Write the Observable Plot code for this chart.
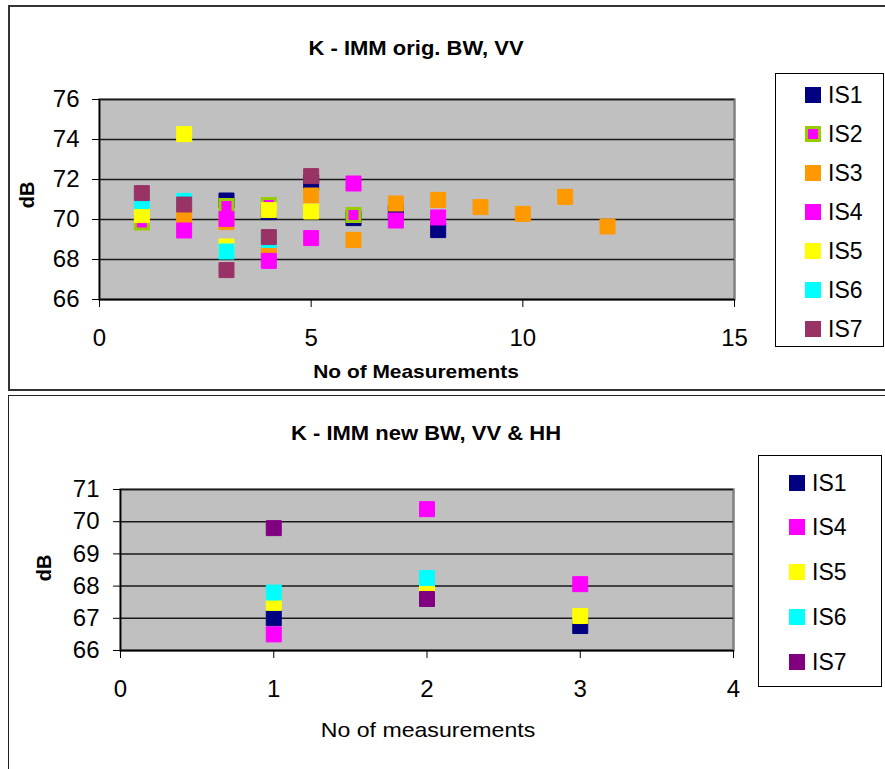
<!DOCTYPE html>
<html>
<head>
<meta charset="utf-8">
<script src="https://cdn.jsdelivr.net/npm/d3@7"></script>
<script src="https://cdn.jsdelivr.net/npm/@observablehq/plot@0.6"></script>
<style>
  body { margin: 0; background: #fff; font-family: "Liberation Sans", Arial, sans-serif; }
  #wrap { position: relative; width: 885px; height: 769px; overflow: hidden; background: #fff; }
  .frame { position: absolute; box-sizing: border-box; }
  .abs { position: absolute; transform: translate(-50%, -50%) scaleX(1.1); white-space: nowrap; color: #000; line-height: 1; }
  .legend { position: absolute; box-sizing: border-box; border: 1px solid #000; background: #fff; }
  .lg-item { position: absolute; height: 24px; line-height: 24px; font-size: 23px; white-space: nowrap; }
  .sw { position: absolute; width: 16px; height: 16px; box-sizing: border-box; }
  .chart { position: absolute; left: 0; }
</style>
</head>
<body>
<div id="wrap">
  <div class="frame" style="left:8px; top:5px; width:890px; height:386px; border:2px solid #333;"></div>
  <div class="frame" style="left:8px; top:395px; width:890px; height:400px; border:1.5px solid #222;"></div>
  <div id="top" class="chart" style="top:0px;"></div>
  <div id="bottom" class="chart" style="top:395px;"></div>
  <div class="abs" style="left:416px; top:48px; font-size:20px; font-weight:bold;">K - IMM orig. BW, VV</div>
  <div class="abs" style="left:416px; top:371px; font-size:19px; font-weight:bold;">No of Measurements</div>
  <div class="abs" style="left:27px; top:195px; font-size:20px; font-weight:bold; transform: translate(-50%,-50%) rotate(-90deg);">dB</div>
  <div class="abs" style="left:426px; top:433px; font-size:20px; font-weight:bold;">K - IMM new BW, VV &amp; HH</div>
  <div class="abs" style="left:428px; top:729px; font-size:21px;">No of measurements</div>
  <div class="abs" style="left:44px; top:568px; font-size:20px; font-weight:bold; transform: translate(-50%,-50%) rotate(-90deg);">dB</div>
  <div id="legTop" class="legend" style="left:775px; top:73px; width:109px; height:274px;"></div>
  <div id="legBot" class="legend" style="left:758px; top:455px; width:124px; height:232px;"></div>
</div>
<script>
// ---------- Top chart data (K - IMM orig. BW, VV) ----------
const topSeries = ["IS1", "IS2", "IS3", "IS4", "IS5", "IS6", "IS7"];
const topColors = ["#000080", "#FF00FF", "#FF9900", "#FF00FF", "#FFFF00", "#00FFFF", "#993366"];
const topXTicks = [0, 5, 10, 15];
const topYTicks = [66, 68, 70, 72, 74, 76];

const topIS1x = [3, 4, 5, 6, 7, 8];
const topIS1y = [70.95, 70.37, 71.85, 70.07, 70.35, 69.47];
const topIS2x = [1, 3, 4, 6];
const topIS2y = [69.85, 70.67, 70.73, 70.23];
const topIS3x = [2, 3, 4, 5, 6, 7, 8, 9, 10, 11, 12];
const topIS3y = [70.15, 69.87, 68.47, 71.2, 68.98, 70.8, 70.98, 70.62, 70.28, 71.13, 69.65];
const topIS4x = [2, 3, 4, 5, 6, 7, 8];
const topIS4y = [69.45, 70.03, 67.93, 69.07, 71.8, 69.95, 70.1];
const topIS5x = [1, 2, 3, 4, 5];
const topIS5y = [70.22, 74.27, 68.65, 70.47, 70.4];
const topIS6x = [1, 2, 3, 4];
const topIS6y = [70.92, 70.93, 68.4, 68.98];
const topIS7x = [1, 2, 3, 4, 5];
const topIS7y = [71.32, 70.75, 67.47, 69.12, 72.17];

// ---------- Bottom chart data (K - IMM new BW, VV & HH) ----------
const botSeries = ["IS1", "IS4", "IS5", "IS6", "IS7"];
const botColors = ["#000080", "#FF00FF", "#FFFF00", "#00FFFF", "#800080"];
const botXTicks = [0, 1, 2, 3, 4];
const botYTicks = [66, 67, 68, 69, 70, 71];

const botIS1x = [1, 3];
const botIS1y = [67.0, 66.76];
const botIS4x = [1, 2, 3];
const botIS4y = [66.5, 70.39, 68.06];
const botIS5x = [1, 2, 3];
const botIS5y = [67.48, 67.92, 67.07];
const botIS6x = [1, 2];
const botIS6y = [67.8, 68.25];
const botIS7x = [1, 2];
const botIS7y = [69.8, 67.6];

function rows(name, xs, ys) { return xs.map((x, i) => ({series: name, x, y: ys[i]})); }

const topData = [
  rows("IS1", topIS1x, topIS1y), rows("IS2", topIS2x, topIS2y), rows("IS3", topIS3x, topIS3y),
  rows("IS4", topIS4x, topIS4y), rows("IS5", topIS5x, topIS5y), rows("IS6", topIS6x, topIS6y),
  rows("IS7", topIS7x, topIS7y)
];
const botData = [
  rows("IS1", botIS1x, botIS1y), rows("IS4", botIS4x, botIS4y), rows("IS5", botIS5x, botIS5y),
  rows("IS6", botIS6x, botIS6y), rows("IS7", botIS7x, botIS7y)
];

const SQ = 15 / Math.sqrt(Math.PI);      // square of side 15 + 1px stroke
const SQ2 = 13 / Math.sqrt(Math.PI);     // IS2: side 13 + 3px border

function seriesMarks(data, names, colors, special) {
  return data.map((d, i) => {
    const isSpecial = special && names[i] === special;
    return Plot.dot(d, {
      x: "x", y: "y", symbol: "square",
      r: isSpecial ? SQ2 : SQ,
      fill: "series",
      stroke: isSpecial ? "#99CC00" : colors[i],
      strokeWidth: isSpecial ? 3 : 1
    });
  });
}

const fontStyle = {fontFamily: '"Liberation Sans", Arial, sans-serif', fontSize: "24px", color: "#000", background: "transparent", overflow: "visible"};
const fmt = d3.format("d");

const topPlot = Plot.plot({
  width: 885, height: 390,
  marginLeft: 99, marginRight: 151, marginTop: 99, marginBottom: 91,
  x: {domain: [0, 15]},
  y: {domain: [66, 76]},
  color: {domain: topSeries, range: topColors},
  style: fontStyle,
  marks: [
    Plot.frame({fill: "#C0C0C0", stroke: "#808080", strokeWidth: 2.5}),
    Plot.gridY(topYTicks, {stroke: "#1a1a1a", strokeOpacity: 1, strokeWidth: 1.5}),
    Plot.axisY(topYTicks, {tickSize: 7, tickPadding: 13, label: null, stroke: "#000", tickFormat: fmt}),
    Plot.axisX(topXTicks, {tickSize: 8, tickPadding: 21, label: null, stroke: "#000", tickFormat: fmt}),
    Plot.ruleX([0], {stroke: "#000", strokeWidth: 1.5}),
    Plot.ruleY([66], {stroke: "#000", strokeWidth: 1.5}),
    ...seriesMarks(topData, topSeries, topColors, "IS2")
  ]
});
document.getElementById("top").appendChild(topPlot);

const botPlot = Plot.plot({
  width: 885, height: 374,
  marginLeft: 120, marginRight: 152, marginTop: 94, marginBottom: 119,
  x: {domain: [0, 4]},
  y: {domain: [66, 71]},
  color: {domain: botSeries, range: botColors},
  style: fontStyle,
  marks: [
    Plot.frame({fill: "#C0C0C0", stroke: "#808080", strokeWidth: 2.5}),
    Plot.gridY(botYTicks, {stroke: "#1a1a1a", strokeOpacity: 1, strokeWidth: 1.5}),
    Plot.axisY(botYTicks, {tickSize: 7, tickPadding: 14, label: null, stroke: "#000", tickFormat: fmt}),
    Plot.axisX(botXTicks, {tickSize: 8, tickPadding: 21, label: null, stroke: "#000", tickFormat: fmt}),
    Plot.ruleX([0], {stroke: "#000", strokeWidth: 1.5}),
    Plot.ruleY([66], {stroke: "#000", strokeWidth: 1.5}),
    ...seriesMarks(botData, botSeries, botColors, null)
  ]
});
document.getElementById("bottom").appendChild(botPlot);

// ---------- Legends ----------
function buildLegend(el, names, colors, x0, swX, textX, ys, top) {
  names.forEach((n, i) => {
    const sw = document.createElement("div");
    sw.className = "sw";
    sw.style.left = (swX - x0) + "px";
    sw.style.top = (ys[i] - top - 8) + "px";
    sw.style.background = colors[i];
    if (n === "IS2" && el.id === "legTop") { sw.style.border = "3px solid #99CC00"; }
    else { sw.style.border = "1px solid " + colors[i]; }
    el.appendChild(sw);
    const t = document.createElement("div");
    t.className = "lg-item";
    t.style.left = (textX - x0) + "px";
    t.style.top = (ys[i] - top - 12) + "px";
    t.textContent = n;
    el.appendChild(t);
  });
}
buildLegend(document.getElementById("legTop"), topSeries, topColors, 776, 805, 828, [95, 134, 173, 212, 251, 290, 329], 74);
buildLegend(document.getElementById("legBot"), botSeries, botColors, 759, 789, 812, [483, 527, 572, 617, 662], 456);
</script>
</body>
</html>
